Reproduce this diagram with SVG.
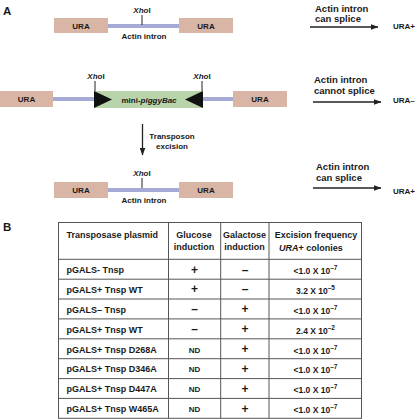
<svg xmlns="http://www.w3.org/2000/svg" width="417" height="420" viewBox="0 0 417 420">
<style>
text{font-family:"Liberation Sans",Arial,sans-serif;fill:#1a1a1a}
.b{font-weight:bold}
.lbl{font-size:8px;font-weight:bold}
.big{font-size:11.5px;font-weight:bold}
.arr{font-size:9.5px;font-weight:bold}
.ura{fill:#d9b5a5}
.intr{stroke:#a6aad6;stroke-width:4}
.tick{stroke:#222;stroke-width:1}
.conn{stroke:#222;stroke-width:1.3;fill:none}
.grid{stroke:#555;stroke-width:1;fill:none}
.th{font-size:9px;font-weight:bold}
.td{font-size:9px;font-weight:bold}
.pm{font-size:12px;font-weight:bold;text-anchor:middle}
.nd{font-size:8px;font-weight:bold;text-anchor:middle}
.val{font-size:8.5px;font-weight:bold;text-anchor:middle}
.sup{font-size:6.5px}
.c{text-anchor:middle}
</style>
<defs>
<marker id="ah" markerWidth="8" markerHeight="6" refX="7.5" refY="3" orient="auto" markerUnits="userSpaceOnUse">
<path d="M0,0 L8,3 L0,6 Z" fill="#222"/>
</marker>
</defs>

<text x="3" y="15" class="big">A</text>
<text x="3" y="231" class="big">B</text>

<!-- Row 1 construct -->
<g id="row1">
<line class="intr" x1="108" y1="26" x2="179" y2="26"/>
<rect class="ura" x="54" y="18" width="54" height="15"/>
<text x="81" y="28.5" class="lbl c">URA</text>
<rect class="ura" x="179" y="18" width="54" height="15"/>
<text x="206" y="28.5" class="lbl c">URA</text>
<line class="tick" x1="142" y1="15" x2="142" y2="25"/>
<text x="142" y="12.5" class="lbl c"><tspan font-style="italic">Xho</tspan>I</text>
<text x="144" y="38.5" class="lbl c">Actin intron</text>
</g>

<!-- Row 2 construct -->
<g id="row2">
<line class="intr" x1="53" y1="99" x2="94" y2="99"/>
<line class="intr" x1="203" y1="99" x2="233" y2="99"/>
<rect class="ura" x="0" y="91" width="53" height="16"/>
<text x="26.5" y="102" class="lbl c">URA</text>
<rect class="ura" x="233" y="91" width="54" height="16"/>
<text x="260" y="102" class="lbl c">URA</text>
<g id="transposon">
<rect x="94" y="91" width="109" height="17" fill="#b9d3aa"/>
<polygon points="94,91 112,99.5 94,108" fill="#111"/>
<polygon points="203,91 185,99.5 203,108" fill="#111"/>
<text x="149" y="103" class="lbl c">mini-<tspan font-style="italic">piggyBac</tspan></text>
</g>
<line class="tick" x1="95" y1="81" x2="95" y2="91"/>
<text x="96" y="78.5" class="lbl c"><tspan font-style="italic">Xho</tspan>I</text>
<line class="tick" x1="202" y1="81" x2="202" y2="91"/>
<text x="202" y="78.5" class="lbl c"><tspan font-style="italic">Xho</tspan>I</text>
</g>

<!-- Row 3 construct -->
<g id="row3">
<line class="intr" x1="108" y1="190" x2="179" y2="190"/>
<rect class="ura" x="54" y="182" width="54" height="16"/>
<text x="81" y="193" class="lbl c">URA</text>
<rect class="ura" x="179" y="182" width="54" height="16"/>
<text x="206" y="193" class="lbl c">URA</text>
<line class="tick" x1="142" y1="178" x2="142" y2="188"/>
<text x="142" y="176" class="lbl c"><tspan font-style="italic">Xho</tspan>I</text>
<text x="144" y="203" class="lbl c">Actin intron</text>
</g>

<!-- connectors -->
<g id="connectors">
<line class="conn" x1="310" y1="27" x2="378" y2="27" marker-end="url(#ah)"/>
<line class="conn" x1="313" y1="102" x2="381" y2="102" marker-end="url(#ah)"/>
<line class="conn" x1="313" y1="188" x2="381" y2="188" marker-end="url(#ah)"/>
<line class="conn" x1="142.5" y1="124" x2="142.5" y2="155" marker-end="url(#ah)"/>
</g>

<g id="label1">
<text x="315" y="12" class="arr">Actin intron</text>
<text x="315" y="22" class="arr">can splice</text>
<text x="393" y="29" class="lbl">URA+</text>
</g>
<g id="label2">
<text x="314" y="83" class="arr">Actin intron</text>
<text x="314" y="94" class="arr">cannot splice</text>
<text x="393" y="103" class="lbl">URA–</text>
</g>
<g id="label3">
<text x="316" y="169.5" class="arr">Actin intron</text>
<text x="316" y="180.5" class="arr">can splice</text>
<text x="393" y="194" class="lbl">URA+</text>
</g>
<g id="excision-label">
<text x="172" y="139" class="lbl c">Transposon</text>
<text x="172" y="149" class="lbl c">excision</text>
</g>

<!-- Table -->
<g id="table">
<rect class="grid" x="58.5" y="222.5" width="303" height="195.8"/>
<line class="grid" x1="168.5" y1="222.5" x2="168.5" y2="418.3"/>
<line class="grid" x1="220.7" y1="222.5" x2="220.7" y2="418.3"/>
<line class="grid" x1="269" y1="222.5" x2="269" y2="418.3"/>
<line class="grid" x1="58.5" y1="259.3" x2="361.5" y2="259.3"/>
<line class="grid" x1="58.5" y1="279.2" x2="361.5" y2="279.2"/>
<line class="grid" x1="58.5" y1="299.0" x2="361.5" y2="299.0"/>
<line class="grid" x1="58.5" y1="318.9" x2="361.5" y2="318.9"/>
<line class="grid" x1="58.5" y1="338.8" x2="361.5" y2="338.8"/>
<line class="grid" x1="58.5" y1="358.7" x2="361.5" y2="358.7"/>
<line class="grid" x1="58.5" y1="378.6" x2="361.5" y2="378.6"/>
<line class="grid" x1="58.5" y1="398.4" x2="361.5" y2="398.4"/>

<text x="66.5" y="237.5" class="th">Transposase plasmid</text>
<text x="194" y="238" class="th c">Glucose</text>
<text x="194" y="249.5" class="th c">induction</text>
<text x="244.5" y="238" class="th c">Galactose</text>
<text x="244.5" y="249.5" class="th c">induction</text>
<text x="316" y="238" class="th c">Excision frequency</text>
<text x="311" y="250.5" class="th c"><tspan font-style="italic">URA</tspan>+ colonies</text>

<text x="66.5" y="273" class="td">pGALS- Tnsp</text>
<text x="66.5" y="292.9" class="td">pGALS+ Tnsp WT</text>
<text x="66.5" y="312.7" class="td">pGALS– Tnsp</text>
<text x="66.5" y="332.6" class="td">pGALS+ Tnsp WT</text>
<text x="66.5" y="352.5" class="td">pGALS+ Tnsp D268A</text>
<text x="66.5" y="372.4" class="td">pGALS+ Tnsp D346A</text>
<text x="66.5" y="392.3" class="td">pGALS+ Tnsp D447A</text>
<text x="66.5" y="412.1" class="td">pGALS+ Tnsp W465A</text>

<text x="194.5" y="273.5" class="pm">+</text>
<text x="194.5" y="293.4" class="pm">+</text>
<text x="194.5" y="313.2" class="pm">–</text>
<text x="194.5" y="333.1" class="pm">–</text>
<text x="194.5" y="352.5" class="nd">ND</text>
<text x="194.5" y="372.4" class="nd">ND</text>
<text x="194.5" y="392.3" class="nd">ND</text>
<text x="194.5" y="412.1" class="nd">ND</text>

<text x="245" y="273.5" class="pm">–</text>
<text x="245" y="293.4" class="pm">–</text>
<text x="245" y="313.2" class="pm">+</text>
<text x="245" y="333.1" class="pm">+</text>
<text x="245" y="353" class="pm">+</text>
<text x="245" y="372.9" class="pm">+</text>
<text x="245" y="392.8" class="pm">+</text>
<text x="245" y="412.6" class="pm">+</text>

<text x="315.5" y="274" class="val">&lt;1.0 X 10<tspan class="sup" dy="-4">–7</tspan></text>
<text x="315.5" y="293.9" class="val">3.2 X 10<tspan class="sup" dy="-4">–5</tspan></text>
<text x="315.5" y="313.7" class="val">&lt;1.0 X 10<tspan class="sup" dy="-4">–7</tspan></text>
<text x="315.5" y="333.6" class="val">2.4 X 10<tspan class="sup" dy="-4">–2</tspan></text>
<text x="315.5" y="353.5" class="val">&lt;1.0 X 10<tspan class="sup" dy="-4">–7</tspan></text>
<text x="315.5" y="373.4" class="val">&lt;1.0 X 10<tspan class="sup" dy="-4">–7</tspan></text>
<text x="315.5" y="393.3" class="val">&lt;1.0 X 10<tspan class="sup" dy="-4">–7</tspan></text>
<text x="315.5" y="413.1" class="val">&lt;1.0 X 10<tspan class="sup" dy="-4">–7</tspan></text>
</g>
</svg>
